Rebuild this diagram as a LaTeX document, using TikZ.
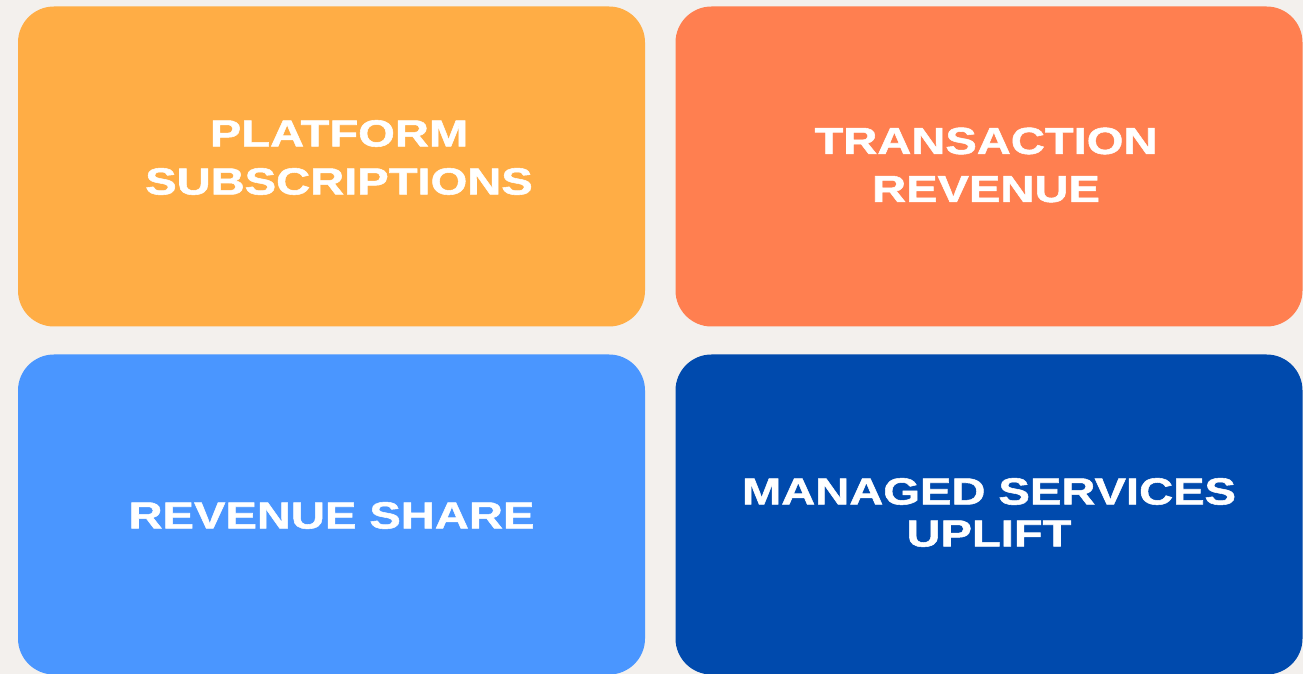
\documentclass[tikz,border=0pt]{standalone}
\usepackage{fontspec}
\usepackage{xcolor}
\newfontfamily\tilefont[FakeStretch=1.25,FakeBold=1.4]{Liberation Sans}

\definecolor{paper}{HTML}{F3F0ED}
\definecolor{tileorange}{HTML}{FFAD45}
\definecolor{tilecoral}{HTML}{FF7F50}
\definecolor{tilesky}{HTML}{4A96FF}
\definecolor{tilenavy}{HTML}{004AAD}

\tikzset{
    tile/.style={draw=none, rounded corners=36pt, minimum width=627pt, minimum height=320pt, inner sep=0pt},
    tiletext/.style={text=white, align=center, inner sep=0pt, font=\tilefont\bfseries\fontsize{37.7}{48}\selectfont}
}

\begin{document}
\begin{tikzpicture}[x=1pt,y=1pt]

        % paper
            \fill[paper] (0,0) rectangle (1303,674);
            \useasboundingbox (0,0) rectangle (1303,674);

        % four revenue tiles
            \node[tile, fill=tileorange] (platform) at (331.5,507.5) {};
            \node[tile, fill=tilecoral] (transaction) at (989,507.5) {};
            \node[tile, fill=tilesky] (share) at (331.5,159.5) {};
            \node[tile, fill=tilenavy] (managed) at (989,159.5) {};

        % labels
            \node[tiletext] (platformlabel) at (339,516.5) {PLATFORM\\SUBSCRIPTIONS};
            \node[tiletext] (transactionlabel) at (986,509) {TRANSACTION\\REVENUE};
            \node[tiletext] (sharelabel) at (331.5,158.5) {REVENUE SHARE};
            \node[tiletext, font=\tilefont\bfseries\fontsize{37.7}{42}\selectfont] (managedlabel) at (989,161.5) {MANAGED SERVICES\\UPLIFT};
        \end{tikzpicture}
\end{document}
